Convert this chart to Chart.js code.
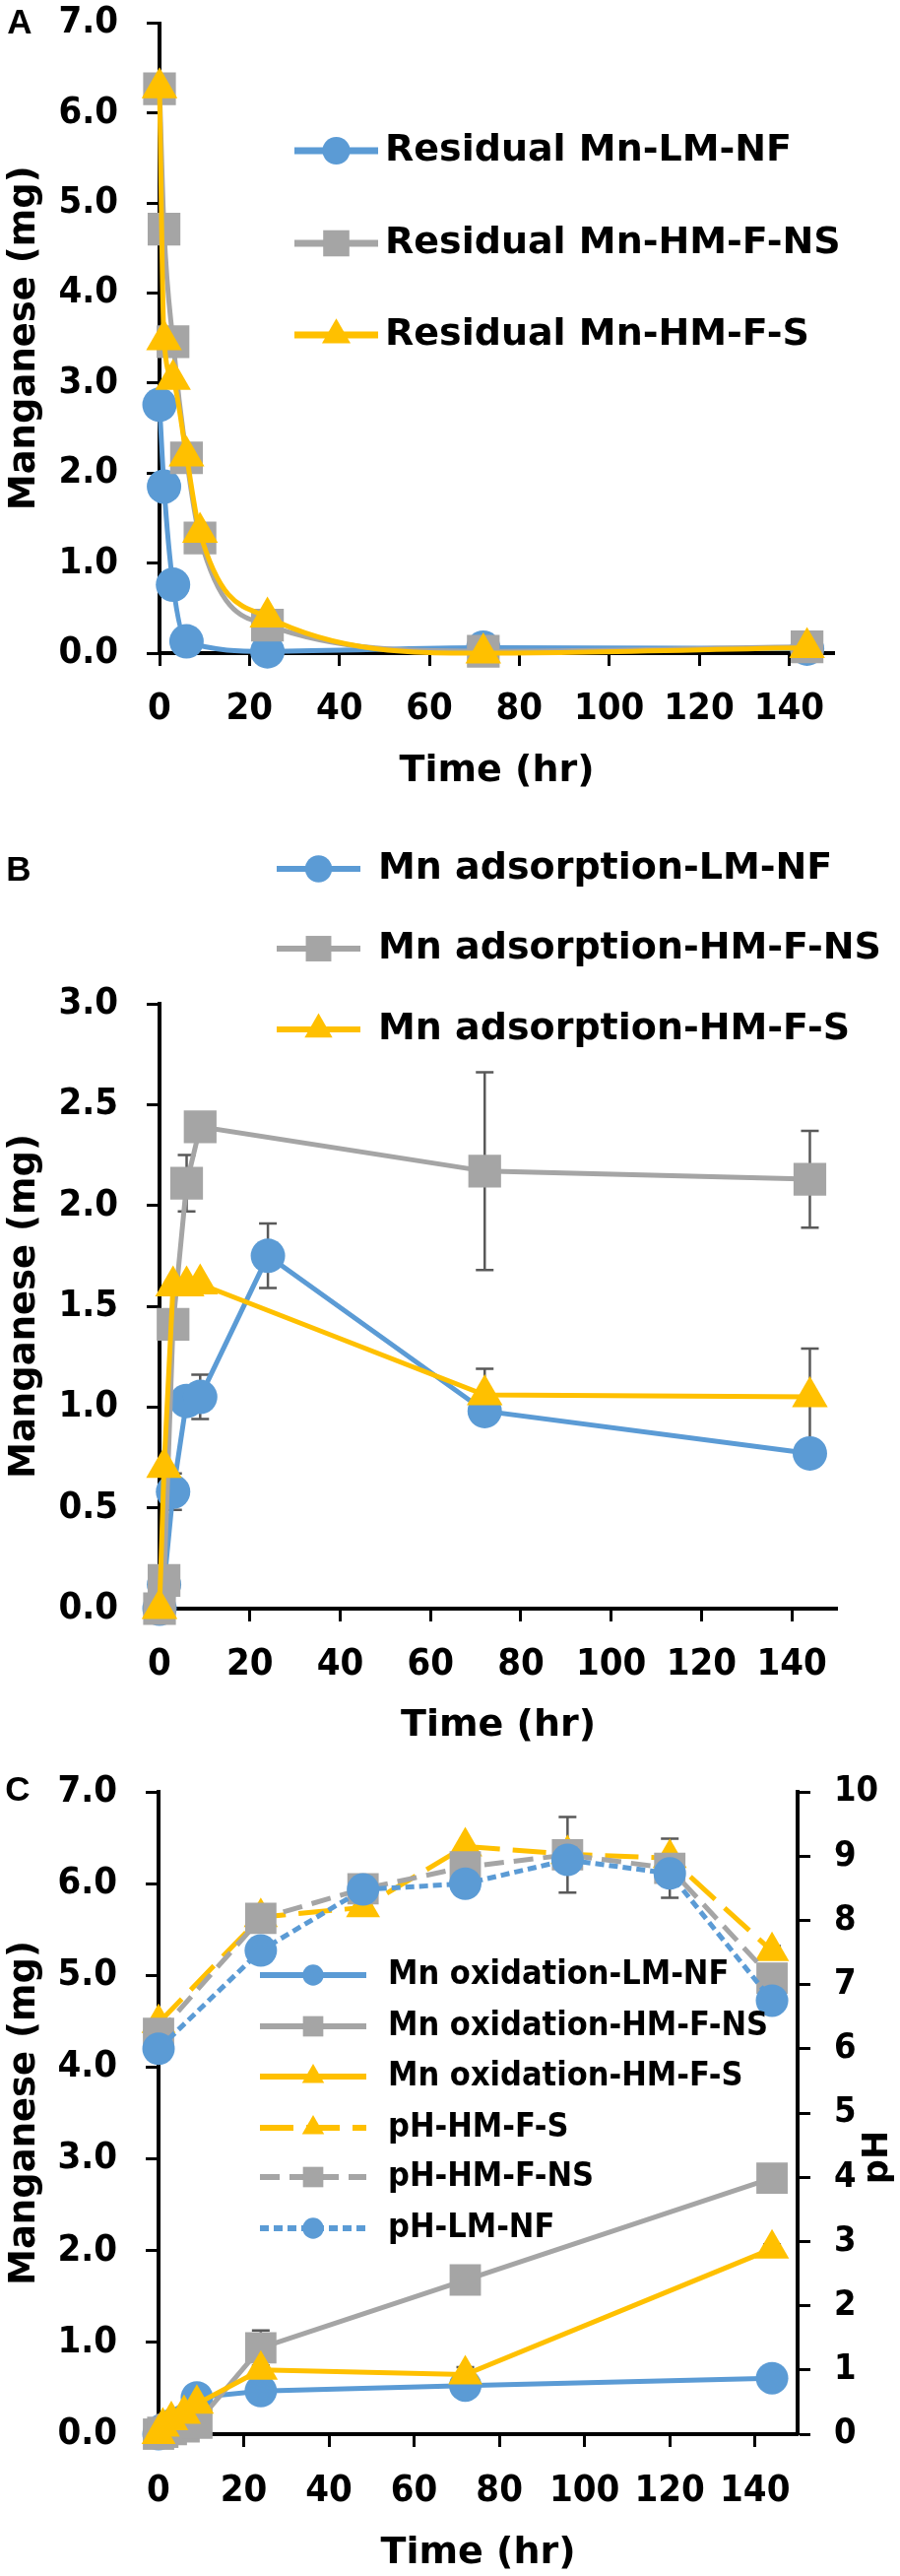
<!DOCTYPE html>
<html>
<head>
<meta charset="utf-8">
<title>Manganese removal over time</title>
<script src="https://cdn.jsdelivr.net/npm/chart.js"></script>
<style>
  html, body { margin: 0; padding: 0; background: #fff; }
  body { width: 914px; height: 2615px; position: relative; overflow: hidden; }
  canvas { position: absolute; left: 0; }
</style>
</head>
<body>
<canvas id="panelA" width="914" height="820" style="top:0"></canvas>
<canvas id="panelB" width="914" height="940" style="top:850px"></canvas>
<canvas id="panelC" width="914" height="825" style="top:1790px"></canvas>
<script>
// ---- data ----
const timeTicks = [0, 20, 40, 60, 80, 100, 120, 140];

// A: residual Mn (mg)
const hoursA = [0, 1, 3, 6, 9, 24, 72, 144];
const residualLM = [2.76, 1.85, 0.76, 0.13, null, 0.02, 0.06, 0.05];
const residualNS = [6.27, 4.71, 3.46, 2.17, 1.28, 0.31, 0.02, 0.07];
const residualS = [6.28, 3.48, 3.04, 2.19, 1.34, 0.40, 0.00, 0.06];
const mnTicksA = [0, 1, 2, 3, 4, 5, 6, 7];

// B: Mn adsorption (mg) with error bars
const hoursB = [0, 1, 3, 6, 9, 24, 72, 144];
const adsorbLM = [0.00, 0.12, 0.58, 1.03, 1.05, 1.75, 0.98, 0.77];
const adsorbLMErr = [0, 0, 0.09, 0, 0.11, 0.16, 0, 0];
const adsorbNS = [0.00, 0.14, 1.41, 2.11, 2.39, null, 2.17, 2.13];
const adsorbNSErr = [0, 0, 0, 0.14, 0, 0, 0.49, 0.24];
const adsorbS = [0.00, 0.70, 1.60, 1.60, 1.61, null, 1.06, 1.05];
const adsorbSErr = [0, 0, 0, 0, 0, 0, 0.13, 0.24];
const mnTicksB = [0, 0.5, 1, 1.5, 2, 2.5, 3];

// C: Mn oxidation (mg, left) and pH (right)
const hoursOx = [0, 1, 3, 6, 9, 24, 72, 144];
const oxLM = [0.00, 0.05, 0.10, 0.15, 0.40, 0.47, 0.53, 0.61];
const oxNS = [0.00, 0.02, 0.05, 0.08, 0.12, 0.94, 1.68, 2.79];
const oxNSErr = [0, 0, 0, 0, 0, 0.19, 0, 0];
const oxS = [0.00, 0.08, 0.15, 0.22, 0.33, 0.70, 0.65, 2.02];
const oxSErr = [0, 0, 0, 0, 0, 0, 0.08, 0.05];
const hoursPH = [0, 24, 48, 72, 96, 120, 144];
const phLM = [6.00, 7.53, 8.48, 8.57, 8.94, 8.73, 6.75];
const phNS = [6.24, 8.03, 8.49, 8.83, 9.02, 8.81, 7.10];
const phNSErr = [0, 0, 0, 0, 0.59, 0.46, 0];
const phS = [6.40, 8.05, 8.20, 9.15, 9.03, 8.97, 7.52];
const phSErr = [0, 0, 0, 0, 0, 0, 0.08];
const mnTicksC = [0, 1, 2, 3, 4, 5, 6, 7];
const phTicks = [0, 1, 2, 3, 4, 5, 6, 7, 8, 9, 10];

// ---- styling ----
const BLUE = '#5B9BD5';
const GRAY = '#A5A5A5';
const GOLD = '#FFC000';
const FONT = '"DejaVu Sans", Verdana, sans-serif';
const LETTER_FONT = 'bold 35px "Liberation Sans", Arial, sans-serif';

// the figure's numbers are a narrow bold face; use DejaVu Sans Condensed when it is installed
function hasFont(name) {
  const ctx = document.createElement('canvas').getContext('2d');
  ctx.font = 'bold 40px monospace';
  const fallback = ctx.measureText('Manganese 0123.5').width;
  ctx.font = 'bold 40px "' + name + '", monospace';
  return ctx.measureText('Manganese 0123.5').width !== fallback;
}
const NARROW = hasFont('DejaVu Sans Condensed') ? '"DejaVu Sans Condensed", ' + FONT : null;
const tickFont = NARROW ? { family: NARROW, size: 38, weight: 'bold' } : { size: 35, weight: 'bold' };
const rightTickFont = NARROW ? { family: NARROW, size: 36, weight: 'bold' } : { size: 33, weight: 'bold' };

Chart.defaults.font.family = FONT;
Chart.defaults.color = '#000';

const tickGrid = { display: true, drawOnChartArea: false, drawTicks: true, tickLength: 13, tickWidth: 3, tickColor: '#000' };
const axisBorder = { display: true, color: '#000', width: 4 };

function points(hours, values, errs) {
  const out = [];
  hours.forEach((h, i) => {
    if (values[i] === null) return;
    out.push({ x: h, y: values[i], e: errs ? errs[i] : 0 });
  });
  return out;
}

function marker(color, style, radius) {
  return {
    borderColor: color, backgroundColor: color,
    pointBackgroundColor: color, pointBorderColor: color, pointBorderWidth: 0,
    pointStyle: style, pointRadius: radius, pointHoverRadius: radius,
  };
}

function series(label, data, look, extra) {
  return Object.assign({ label, data, borderWidth: 5, clip: false, spanGaps: true, fill: false }, look, extra || {});
}

function timeAxis(height, labelPad, titlePad) {
  return {
    type: 'linear', position: 'bottom', min: 0, max: 150,
    afterBuildTicks: s => { s.ticks = timeTicks.map(v => ({ value: v })); },
    ticks: { font: tickFont, padding: labelPad, maxRotation: 0, autoSkip: false },
    grid: tickGrid, border: axisBorder,
    title: { display: true, text: 'Time (hr)', font: { size: 38, weight: 'bold' }, padding: { top: 0, bottom: titlePad } },
    afterFit: s => { s.height = height; s.paddingLeft = 0; s.paddingRight = 0; },
  };
}

function mnAxis(tickValues, max, width) {
  return {
    type: 'linear', position: 'left', min: 0, max,
    afterBuildTicks: s => { s.ticks = tickValues.map(v => ({ value: v })); },
    ticks: { font: tickFont, padding: 29, callback: v => Number(v).toFixed(1) },
    grid: tickGrid, border: axisBorder,
    title: { display: true, text: 'Manganese (mg)', font: { size: 37, weight: 'bold' }, padding: { top: 3, bottom: 0 } },
    afterFit: s => { s.width = width; s.paddingTop = 0; s.paddingBottom = 0; },
  };
}

// error bars drawn behind the lines and markers
const errorBars = {
  id: 'errorBars',
  beforeDatasetsDraw(chart) {
    const ctx = chart.ctx;
    chart.data.datasets.forEach((ds, i) => {
      const meta = chart.getDatasetMeta(i);
      const yScale = chart.scales[meta.yAxisID];
      ds.data.forEach((p, j) => {
        if (!p.e) return;
        const el = meta.data[j];
        const top = yScale.getPixelForValue(p.y + p.e);
        const bot = yScale.getPixelForValue(p.y - p.e);
        ctx.save();
        ctx.strokeStyle = '#595959';
        ctx.lineWidth = 2.5;
        ctx.beginPath();
        ctx.moveTo(el.x, top); ctx.lineTo(el.x, bot);
        ctx.moveTo(el.x - 9, top); ctx.lineTo(el.x + 9, top);
        ctx.moveTo(el.x - 9, bot); ctx.lineTo(el.x + 9, bot);
        ctx.stroke();
        ctx.restore();
      });
    });
  },
};

// legend drawn at fixed spots, one entry per row
const rowLegend = {
  id: 'rowLegend',
  afterDraw(chart, args, opts) {
    if (!opts.rows) return;
    const ctx = chart.ctx;
    opts.order.forEach((di, row) => {
      const ds = chart.data.datasets[di];
      const y = opts.rows[row];
      ctx.save();
      ctx.strokeStyle = ds.borderColor;
      ctx.lineWidth = opts.lineWidth;
      ctx.setLineDash(ds.borderDash || []);
      ctx.beginPath();
      ctx.moveTo(opts.x0, y);
      ctx.lineTo(opts.x1, y);
      ctx.stroke();
      ctx.setLineDash([]);
      ctx.fillStyle = ds.pointBackgroundColor;
      Chart.helpers.drawPoint(ctx, { pointStyle: ds.pointStyle, radius: ds.pointRadius * opts.markerScale, borderWidth: 0, rotation: 0 }, (opts.x0 + opts.x1) / 2, y);
      ctx.fillStyle = '#000';
      const narrow = opts.narrow && NARROW;
      ctx.font = 'bold ' + opts.fontSize + 'px ' + (narrow ? NARROW : FONT);
      ctx.textAlign = 'left';
      ctx.textBaseline = 'middle';
      ctx.translate(opts.textX, y);
      if (opts.narrow && !NARROW) ctx.scale(0.89, 1);
      ctx.fillText(ds.label, 0, 0);
      ctx.restore();
    });
  },
};

// panel letters and the right-hand pH title
const panelText = {
  id: 'panelText',
  afterDraw(chart, args, opts) {
    const ctx = chart.ctx;
    (opts.items || []).forEach(it => {
      ctx.save();
      ctx.font = it.font;
      ctx.fillStyle = '#000';
      ctx.textAlign = 'center';
      ctx.textBaseline = 'middle';
      ctx.translate(it.x, it.y);
      if (it.rotate) ctx.rotate(it.rotate);
      ctx.fillText(it.text, 0, 0);
      ctx.restore();
    });
  },
};

const base = { responsive: false, animation: false, devicePixelRatio: 1, events: [] };

// ---- Panel A ----
new Chart(document.getElementById('panelA'), {
  type: 'line',
  data: {
    datasets: [
      series('Residual Mn-LM-NF', points(hoursA, residualLM), marker(BLUE, 'circle', 17.5), { order: 3, cubicInterpolationMode: 'monotone' }),
      series('Residual Mn-HM-F-NS', points(hoursA, residualNS), marker(GRAY, 'rect', 23.5), { order: 2, cubicInterpolationMode: 'monotone' }),
      series('Residual Mn-HM-F-S', points(hoursA, residualS), marker(GOLD, 'triangle', 21), { order: 1, cubicInterpolationMode: 'monotone' }),
    ],
  },
  options: Object.assign({}, base, {
    layout: { padding: { top: 19, right: 67, bottom: 0, left: 0 } },
    scales: { x: timeAxis(157, 21, 14), y: mnAxis(mnTicksA, 7, 162) },
    plugins: {
      legend: { display: false }, tooltip: { enabled: false },
      rowLegend: { order: [0, 1, 2], rows: [153, 247, 340], x0: 299, x1: 384, textX: 391, fontSize: 38, lineWidth: 7, markerScale: 0.8 },
      panelText: { items: [{ text: 'A', x: 20, y: 24, font: LETTER_FONT }] },
    },
  }),
  plugins: [errorBars, rowLegend, panelText],
});

// ---- Panel B ----
new Chart(document.getElementById('panelB'), {
  type: 'line',
  data: {
    datasets: [
      series('Mn adsorption-LM-NF', points(hoursB, adsorbLM, adsorbLMErr), marker(BLUE, 'circle', 17.5), { order: 3 }),
      series('Mn adsorption-HM-F-NS', points(hoursB, adsorbNS, adsorbNSErr), marker(GRAY, 'rect', 23.5), { order: 2 }),
      series('Mn adsorption-HM-F-S', points(hoursB, adsorbS, adsorbSErr), marker(GOLD, 'triangle', 21), { order: 1 }),
    ],
  },
  options: Object.assign({}, base, {
    layout: { padding: { top: 169, right: 64, bottom: 0, left: 0 } },
    scales: { x: timeAxis(157, 21, 15), y: mnAxis(mnTicksB, 3, 162) },
    plugins: {
      legend: { display: false }, tooltip: { enabled: false },
      rowLegend: { order: [0, 1, 2], rows: [32, 113, 195], x0: 281, x1: 366, textX: 384, fontSize: 38, lineWidth: 6, markerScale: 0.78 },
      panelText: { items: [{ text: 'B', x: 19, y: 34, font: LETTER_FONT }] },
    },
  }),
  plugins: [errorBars, rowLegend, panelText],
});

// ---- Panel C ----
new Chart(document.getElementById('panelC'), {
  type: 'line',
  data: {
    datasets: [
      series('Mn oxidation-LM-NF', points(hoursOx, oxLM), marker(BLUE, 'circle', 16.5), { order: 6, yAxisID: 'y' }),
      series('Mn oxidation-HM-F-NS', points(hoursOx, oxNS, oxNSErr), marker(GRAY, 'rect', 22.5), { order: 5, yAxisID: 'y' }),
      series('Mn oxidation-HM-F-S', points(hoursOx, oxS, oxSErr), marker(GOLD, 'triangle', 20), { order: 4, yAxisID: 'y' }),
      series('pH-HM-F-S', points(hoursPH, phS, phSErr), marker(GOLD, 'triangle', 20), { order: 3, yAxisID: 'y1', borderDash: [34, 13] }),
      series('pH-HM-F-NS', points(hoursPH, phNS, phNSErr), marker(GRAY, 'rect', 22.5), { order: 2, yAxisID: 'y1', borderDash: [20, 10] }),
      series('pH-LM-NF', points(hoursPH, phLM), marker(BLUE, 'circle', 16.5), { order: 1, yAxisID: 'y1', borderDash: [9, 5] }),
    ],
  },
  options: Object.assign({}, base, {
    layout: { padding: { top: 29, right: 0, bottom: 0, left: 0 } },
    scales: {
      x: timeAxis(144, 22, 0),
      y: mnAxis(mnTicksC, 7, 161),
      y1: {
        type: 'linear', position: 'right', min: 0, max: 10,
        afterBuildTicks: s => { s.ticks = phTicks.map(v => ({ value: v })); },
        ticks: { font: rightTickFont, padding: 24, callback: v => String(v) },
        grid: tickGrid, border: axisBorder,
        afterFit: s => { s.width = 104; s.paddingTop = 0; s.paddingBottom = 0; },
      },
    },
    plugins: {
      legend: { display: false }, tooltip: { enabled: false },
      rowLegend: { order: [0, 1, 2, 3, 4, 5], rows: [215, 267, 318, 370, 420, 472], x0: 264, x1: 372, textX: 394, fontSize: 34, narrow: true, lineWidth: 6, markerScale: 0.65 },
      panelText: { items: [
        { text: 'C', x: 18, y: 28, font: LETTER_FONT },
        { text: 'pH', x: 892, y: 400, rotate: -Math.PI / 2, font: 'bold 35px ' + FONT },
      ] },
    },
  }),
  plugins: [errorBars, rowLegend, panelText],
});
</script>
</body>
</html>
